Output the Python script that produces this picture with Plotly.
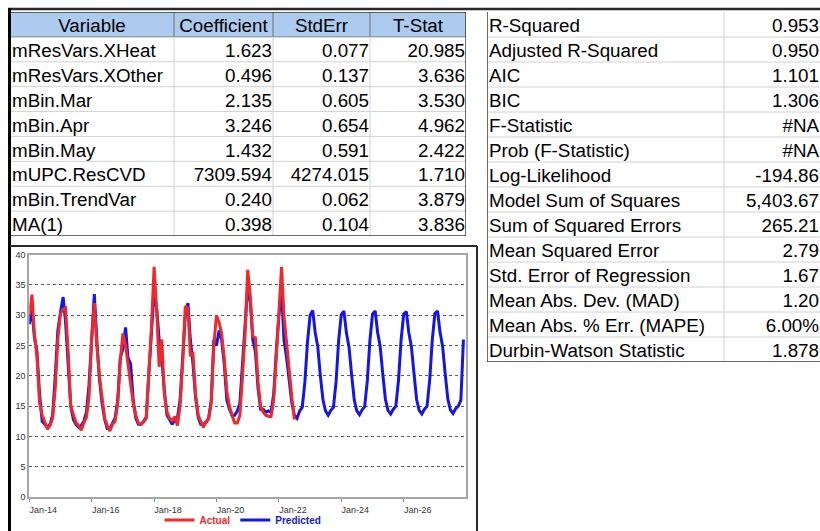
import plotly.graph_objects as go
import pandas as pd

W, H = 820, 531

# ---------------- DATA ----------------
coef_headers = ["Variable", "Coefficient", "StdErr", "T-Stat"]
coef_variables = ["mResVars.XHeat", "mResVars.XOther", "mBin.Mar", "mBin.Apr",
                  "mBin.May", "mUPC.ResCVD", "mBin.TrendVar", "MA(1)"]
coef_values = [1.623, 0.496, 2.135, 3.246, 1.432, 7309.594, 0.240, 0.398]
stderr_values = [0.077, 0.137, 0.605, 0.654, 0.591, 4274.015, 0.062, 0.104]
tstat_values = [20.985, 3.636, 3.530, 4.962, 2.422, 1.710, 3.879, 3.836]

stat_labels = ["R-Squared", "Adjusted R-Squared", "AIC", "BIC", "F-Statistic",
               "Prob (F-Statistic)", "Log-Likelihood", "Model Sum of Squares",
               "Sum of Squared Errors", "Mean Squared Error",
               "Std. Error of Regression", "Mean Abs. Dev. (MAD)",
               "Mean Abs. % Err. (MAPE)", "Durbin-Watson Statistic"]
stat_values = ["0.953", "0.950", "1.101", "1.306", "#NA", "#NA", "-194.86",
               "5,403.67", "265.21", "2.79", "1.67", "1.20", "6.00%", "1.878"]

start_month = "2014-01-01"

# Actual: Jan-2014 .. Jul-2022 (monthly)
actual = [
    30.0, 33.4, 27.0, 23.0, 15.5, 13.5, 12.4, 11.2, 11.8, 13.0, 18.0, 26.0,   # 2014
    30.3, 31.0, 31.2, 24.0, 15.0, 13.5, 12.3, 11.8, 11.0, 12.2, 13.2, 16.5,   # 2015
    26.0, 32.0, 25.0, 20.0, 16.0, 13.0, 11.8, 10.9, 12.0, 12.5, 15.5, 22.5,   # 2016
    27.0, 25.0, 22.0, 19.0, 15.5, 13.5, 12.2, 12.0, 12.4, 13.0, 20.0, 28.0,   # 2017
    38.0, 30.5, 21.5, 26.0, 17.0, 14.0, 13.0, 12.6, 13.3, 11.8, 15.0, 22.0,   # 2018
    31.5, 31.2, 23.5, 23.7, 17.0, 13.5, 12.5, 11.5, 12.5, 12.8, 15.5, 25.0,   # 2019
    30.0, 28.8, 27.0, 23.0, 17.5, 15.0, 13.5, 12.2, 12.2, 13.5, 20.0, 27.0,   # 2020
    37.5, 33.0, 26.5, 26.3, 19.0, 15.0, 14.0, 13.5, 13.3, 13.3, 16.0, 23.0,   # 2021
    30.5, 38.0, 30.0, 25.0, 20.5, 16.5, 12.8,                                 # 2022
]

# Predicted: Jan-2014 .. Dec-2027 (monthly)
predicted = [
    28.5, 31.0, 26.5, 24.0, 17.0, 12.5, 12.0, 11.5, 12.0, 13.5, 20.0, 27.5,   # 2014
    30.5, 33.0, 29.0, 22.0, 15.0, 12.8, 12.0, 11.5, 11.8, 12.5, 14.0, 18.5,   # 2015
    27.0, 33.5, 26.0, 19.5, 15.5, 12.8, 11.3, 11.3, 12.2, 13.0, 16.0, 23.0,   # 2016
    24.5, 28.0, 23.0, 22.0, 16.0, 13.0, 12.0, 12.0, 12.5, 13.2, 20.5, 28.0,   # 2017
    34.0, 31.0, 26.0, 23.0, 17.5, 13.5, 12.8, 12.0, 12.8, 13.0, 16.0, 24.0,   # 2018
    30.0, 32.0, 26.0, 22.0, 16.5, 13.2, 12.0, 12.0, 12.3, 13.0, 16.0, 26.0,   # 2019
    25.0, 27.5, 26.0, 22.0, 16.0, 14.5, 13.5, 13.5, 14.2, 15.5, 22.0, 30.0,   # 2020
    35.0, 32.0, 26.0, 24.0, 18.0, 14.5, 14.5, 14.0, 14.2, 14.0, 17.0, 24.0,   # 2021
    30.0, 34.0, 26.0, 23.0, 19.0, 15.5, 13.5, 13.0, 14.2, 14.8, 19.0, 25.5,   # 2022
    30.0, 30.8, 27.2, 24.8, 20.0, 16.0, 14.2, 13.5, 14.3, 14.8, 19.0, 25.8,   # 2023
    30.1, 30.7, 27.1, 24.7, 20.2, 16.0, 14.2, 13.6, 14.4, 14.9, 19.2, 25.8,   # 2024
    30.2, 30.7, 27.2, 24.8, 20.3, 16.1, 14.3, 13.7, 14.5, 15.0, 19.3, 25.9,   # 2025
    30.2, 30.6, 27.2, 24.8, 20.4, 16.1, 14.3, 13.7, 14.5, 15.0, 19.3, 25.9,   # 2026
    30.3, 30.7, 27.3, 24.9, 20.4, 16.2, 14.4, 13.8, 14.6, 15.0, 16.0, 26.0,   # 2027
]

# ---------------- STYLE ----------------
RED = "#EC2A2A"
BLUE = "#1616E2"
HEADER_FILL = "#ADCBEE"
GRID_LIGHT = "#D2D2D2"
DARK = "#2A2A2A"
TFONT = dict(family="Liberation Sans, Arial, sans-serif", size=18.8, color="black")
CFONT = "Liberation Sans, Arial, sans-serif"

def px(x):
    return x / W

def py(y):
    return 1 - y / H

# left table geometry (pixel-like units on hidden axis x2; rows on y2)
L_EDGES = [10, 174, 273, 370, 466]
L_TOP, L_BOTTOM = 12, 236
# right table geometry (x3 / y3)
R_LEFT, R_SPLIT, R_RIGHT = 487, 724, 820
R_TOP, R_BOTTOM = 12, 362
TEXT_DY = 0.62

fig = go.Figure()

# ---------------- CHART ----------------
months = pd.date_range(start_month, periods=len(predicted), freq="MS")
fig.add_trace(go.Scatter(
    x=months, y=predicted, mode="lines",
    line=dict(color=BLUE, width=3),
    name="<b><span style='color:%s'>Predicted</span></b>" % BLUE,
    legendrank=2, hoverinfo="x+y"))
fig.add_trace(go.Scatter(
    x=months[:len(actual)], y=actual, mode="lines",
    line=dict(color=RED, width=3),
    name="<b><span style='color:%s'>Actual</span></b>" % RED,
    legendrank=1, hoverinfo="x+y"))

# ---------------- LEFT TABLE TEXT ----------------
n_rows_l = len(coef_variables) + 1
centers = [(L_EDGES[i] + L_EDGES[i + 1]) / 2 for i in range(len(coef_headers))]
fig.add_trace(go.Scatter(
    x=centers, y=[TEXT_DY - 0.02] * len(coef_headers), text=coef_headers,
    mode="text", textposition="middle center", textfont=TFONT,
    xaxis="x2", yaxis="y2", showlegend=False, hoverinfo="skip"))
rows_l = [i + 1 + TEXT_DY for i in range(len(coef_variables))]
fig.add_trace(go.Scatter(
    x=[L_EDGES[0] + 2] * len(coef_variables), y=rows_l, text=coef_variables,
    mode="text", textposition="middle right", textfont=TFONT,
    xaxis="x2", yaxis="y2", showlegend=False, hoverinfo="skip"))
for j, col in enumerate([coef_values, stderr_values, tstat_values]):
    fig.add_trace(go.Scatter(
        x=[L_EDGES[j + 2] - 1] * len(col), y=rows_l,
        text=["%.3f" % v for v in col],
        mode="text", textposition="middle left", textfont=TFONT,
        xaxis="x2", yaxis="y2", showlegend=False, hoverinfo="skip"))

# ---------------- RIGHT TABLE TEXT ----------------
n_rows_r = len(stat_labels)
rows_r = [i + TEXT_DY for i in range(n_rows_r)]
fig.add_trace(go.Scatter(
    x=[R_LEFT + 2] * n_rows_r, y=rows_r, text=stat_labels,
    mode="text", textposition="middle right", textfont=TFONT,
    xaxis="x3", yaxis="y3", showlegend=False, hoverinfo="skip"))
fig.add_trace(go.Scatter(
    x=[R_RIGHT - 1] * n_rows_r, y=rows_r, text=stat_values,
    mode="text", textposition="middle left", textfont=TFONT,
    xaxis="x3", yaxis="y3", showlegend=False, hoverinfo="skip"))

# ---------------- SHAPES ----------------
shapes = []
# left table
shapes.append(dict(type="rect", xref="x2", yref="y2", x0=L_EDGES[0], x1=L_EDGES[-1],
                   y0=0, y1=1, fillcolor=HEADER_FILL, line=dict(width=0), layer="below"))
for r in range(1, n_rows_l):
    shapes.append(dict(type="line", xref="x2", yref="y2", x0=L_EDGES[0], x1=L_EDGES[-1],
                       y0=r, y1=r, line=dict(color=GRID_LIGHT if r > 1 else "#8A8A8A", width=1)))
for e in L_EDGES[1:-1]:
    shapes.append(dict(type="line", xref="x2", yref="y2", x0=e, x1=e, y0=1, y1=n_rows_l,
                       line=dict(color=GRID_LIGHT, width=1)))
    shapes.append(dict(type="line", xref="x2", yref="y2", x0=e, x1=e, y0=0, y1=1,
                       line=dict(color="#6E6E6E", width=1)))
shapes.append(dict(type="line", xref="x2", yref="y2", x0=L_EDGES[-1], x1=L_EDGES[-1],
                   y0=0, y1=n_rows_l, line=dict(color="#3A3A3A", width=1.5)))
shapes.append(dict(type="line", xref="x2", yref="y2", x0=L_EDGES[0], x1=L_EDGES[-1],
                   y0=n_rows_l, y1=n_rows_l, line=dict(color="#3A3A3A", width=1.5)))
shapes.append(dict(type="line", xref="x2", yref="y2", x0=L_EDGES[0], x1=L_EDGES[-1],
                   y0=0, y1=0, line=dict(color="#3A3A3A", width=1.5)))
# right table
for r in range(1, n_rows_r):
    shapes.append(dict(type="line", xref="x3", yref="y3", x0=R_LEFT, x1=R_RIGHT,
                       y0=r, y1=r, line=dict(color=GRID_LIGHT, width=1)))
shapes.append(dict(type="line", xref="x3", yref="y3", x0=R_SPLIT, x1=R_SPLIT,
                   y0=0, y1=n_rows_r, line=dict(color=GRID_LIGHT, width=1)))
shapes.append(dict(type="line", xref="x3", yref="y3", x0=R_LEFT, x1=R_LEFT,
                   y0=-0.1, y1=n_rows_r, line=dict(color="#3A3A3A", width=1.5)))
shapes.append(dict(type="line", xref="x3", yref="y3", x0=R_LEFT, x1=R_RIGHT,
                   y0=n_rows_r, y1=n_rows_r, line=dict(color="#3A3A3A", width=1.5)))
# page frame decorations
shapes.append(dict(type="line", xref="paper", yref="paper", x0=px(8), x1=px(820),
                   y0=py(9), y1=py(9), line=dict(color=DARK, width=2.5)))
shapes.append(dict(type="line", xref="paper", yref="paper", x0=px(9.5), x1=px(9.5),
                   y0=py(8), y1=py(540), line=dict(color="black", width=3)))
shapes.append(dict(type="line", xref="paper", yref="paper", x0=px(10), x1=px(477),
                   y0=py(246), y1=py(246), line=dict(color=DARK, width=2)))
shapes.append(dict(type="line", xref="paper", yref="paper", x0=px(477), x1=px(477),
                   y0=py(246), y1=py(540), line=dict(color=DARK, width=2)))

hidden = dict(visible=False, showgrid=False, zeroline=False, fixedrange=True,
              automargin=False)

fig.update_layout(
    width=W, height=H, autosize=False,
    margin=dict(l=0, r=0, t=0, b=0, pad=0, autoexpand=False),
    paper_bgcolor="white", plot_bgcolor="white",
    shapes=shapes,
    showlegend=True,
    legend=dict(orientation="h", x=px(243), xanchor="center", y=py(520), yanchor="middle",
                font=dict(family=CFONT, size=10), bgcolor="rgba(0,0,0,0)",
                itemwidth=30, tracegroupgap=0),
    xaxis=dict(domain=[px(29.3), px(466)], type="date",
               range=["2014-01-01", "2027-12-31"],
               tick0="2014-01-01", dtick="M24", tickformat="%b-%y",
               ticklabelshift=14, ticks="outside", ticklen=3, tickcolor="#888888",
               tickfont=dict(family=CFONT, size=9, color="#333333"),
               showline=True, linecolor="#A6A6A6", linewidth=2, mirror=True,
               showgrid=False, zeroline=False, fixedrange=True, automargin=False),
    yaxis=dict(domain=[py(497), py(254.7)], range=[0, 40], dtick=5, tick0=0,
               showgrid=True, gridcolor="#5A5A5A", griddash="dot", gridwidth=1,
               tickfont=dict(family=CFONT, size=9, color="#333333"),
               showline=True, linecolor="#A6A6A6", linewidth=2, mirror=True,
               ticks="", zeroline=False, fixedrange=True, automargin=False),
    xaxis2=dict(domain=[px(L_EDGES[0]), px(L_EDGES[-1])], range=[L_EDGES[0], L_EDGES[-1]],
                anchor="y2", **hidden),
    yaxis2=dict(domain=[py(L_BOTTOM), py(L_TOP)], range=[n_rows_l, 0], anchor="x2", **hidden),
    xaxis3=dict(domain=[px(R_LEFT), px(R_RIGHT)], range=[R_LEFT, R_RIGHT], anchor="y3", **hidden),
    yaxis3=dict(domain=[py(R_BOTTOM), py(R_TOP)], range=[n_rows_r, 0], anchor="x3", **hidden),
)

fig.write_html("out.html", config={"responsive": False})
